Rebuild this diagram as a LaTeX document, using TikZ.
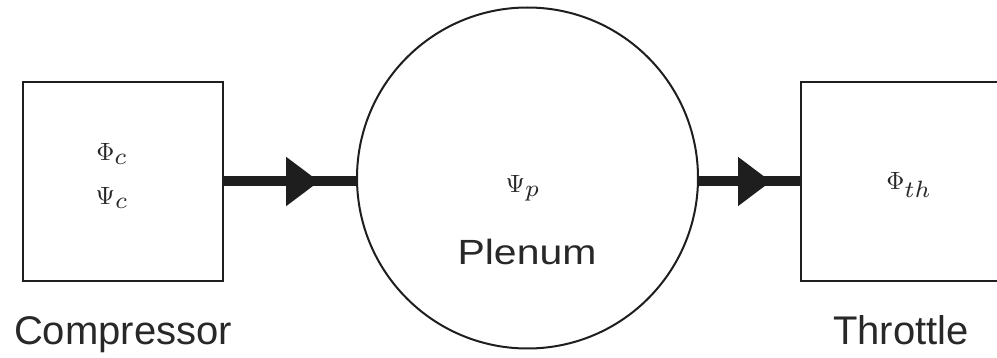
\documentclass[tikz,border=0pt]{standalone}
\usepackage{fontspec}
\setmainfont{Liberation Sans}
\usetikzlibrary{positioning,arrows.meta,decorations.markings}
\newcommand{\bigsym}[2]{\scalebox{2.5}{$#1_{\scalebox{1.35}{$\scriptstyle #2$}}$}}
\definecolor{inkline}{RGB}{30,30,30}
\definecolor{inktext}{RGB}{40,40,40}

\begin{document}
\begin{tikzpicture}[
  x=1pt, y=-1pt,
  blk/.style={draw=inkline, line width=2.4pt, minimum width=200pt, minimum height=199pt, inner sep=0pt},
  tank/.style={draw=inkline, line width=2pt, circle, minimum size=341pt, inner sep=0pt},
  sym/.style={text=inktext, inner sep=0pt, anchor=base},
  lbl/.style={font=\fontsize{40}{44}\selectfont, text=inktext, inner sep=0pt, anchor=base},
  flow/.style={line width=10pt, inkline, postaction={decorate},
    decoration={markings, mark=at position #1 with {\arrow{Triangle[length=33pt,width=47pt]}}}}]

\useasboundingbox (0,0) rectangle (997,358);
\clip (0,0) rectangle (997,358);

% compressor
\node[blk] (comp) at (123,181.5) {};
\node[sym] (phic) at (112,161) {\bigsym{\Phi}{c}};
\node[sym] (psic) at (112,205) {\bigsym{\Psi}{c}};
\node[lbl, below=62pt of comp, anchor=base] (complbl) {Compressor};

% plenum
\node[tank] (plen) at (527.5,178) {};
\node[sym] (psip) at (523,193) {\bigsym{\Psi}{p}};
\node[lbl, font=\fontsize{35}{40}\selectfont] (plenlbl) at (527,265) {\scalebox{1.17}[1]{Plenum}};

% throttle
\node[blk] (thr) at (901,181.5) {};
\node[sym] (phith) at (909,190) {\bigsym{\Phi}{th}};
\node[lbl, below=62pt of thr, anchor=base] (thrlbl) {Throttle};

% connectors
\draw[flow=95pt] (comp.east) -- (comp.east -| plen.west);
\draw[flow=72pt] (thr.west -| plen.east) -- (thr.west);
\end{tikzpicture}
\end{document}
